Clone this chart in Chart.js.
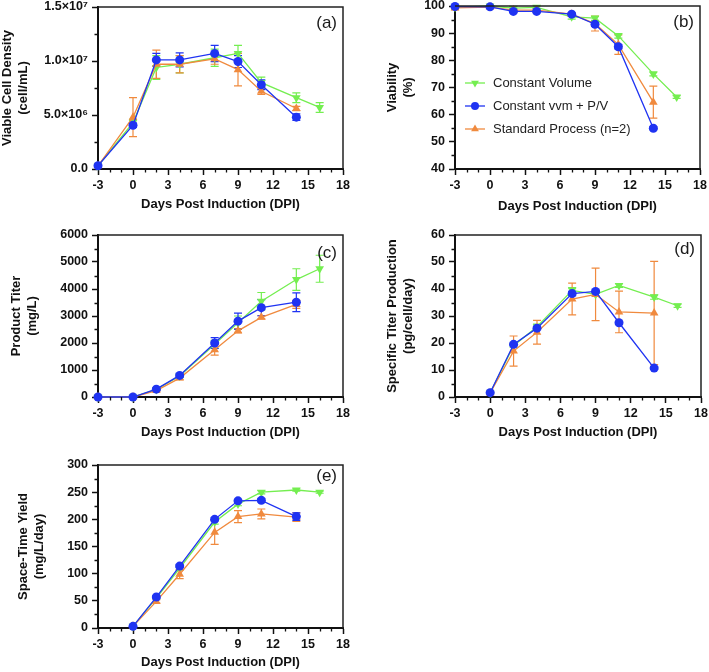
<!DOCTYPE html>
<html lang="en">
<head>
<meta charset="UTF-8">
<script src="https://cdn.jsdelivr.net/npm/chart.js@4"></script>
<title>Days Post Induction</title>
<style>
    body { margin: 0; background: #fff; }
    #wrap { position: relative; width: 709px; height: 672px; }
    canvas { position: absolute; }
</style>
</head>
<body>
<div id="wrap">
    <canvas id="graf-a" width="355" height="220" style="left:0;top:0"></canvas>
    <canvas id="graf-b" width="354" height="220" style="left:355px;top:0"></canvas>
    <canvas id="graf-c" width="355" height="220" style="left:0;top:220px"></canvas>
    <canvas id="graf-d" width="354" height="220" style="left:355px;top:220px"></canvas>
    <canvas id="graf-e" width="355" height="232" style="left:0;top:440px"></canvas>
</div>
<script>
// datos
const days = [-3, 0, 2, 4, 7, 9, 11, 14, 16];
const seriesNames = ['Constant Volume', 'Constant vvm + P/V', 'Standard Process (n=2)'];
const xTickLabels = ['-3', '0', '3', '6', '9', '12', '15', '18'];

// (a) viable cell density
const vcdVolume = [0.3e6, 4.3e6, 9.4e6, 9.7e6, 10.3e6, 10.7e6, 8.0e6, 6.6e6, 5.7e6];
const vcdVolumeErr = [0.1e6, 0.3e6, 1.1e6, 0.8e6, 0.8e6, 0.75e6, 0.5e6, 0.45e6, 0.45e6];
const vcdVvm = [0.3e6, 4.05e6, 10.1e6, 10.1e6, 10.7e6, 9.95e6, 7.8e6, 4.8e6, null];
const vcdVvmErr = [0.1e6, 0.2e6, 0.6e6, 0.65e6, 0.75e6, 0.55e6, 0.45e6, 0.3e6, null];
const vcdStd = [0.3e6, 4.8e6, 9.7e6, 9.7e6, 10.2e6, 9.2e6, 7.2e6, 5.6e6, null];
const vcdStdErr = [0.05e6, 1.8e6, 1.3e6, 0.8e6, 0.5e6, 1.5e6, 0.3e6, 0.2e6, null];
const vcdTickLabels = ['0.0', '5.0×10⁶', '1.0×10⁷', '1.5×10⁷'];

// (b) viability
const viaVolume = [99.5, 100, 99.2, 99.5, 96, 95.5, 89, 75, 66.5];
const viaVolumeErr = [0.3, 0.2, 0.5, 0.5, 0.8, 0.8, 0.8, 0.7, 0.5];
const viaVvm = [99.8, 99.7, 98, 98, 97, 93.3, 85, 55, null];
const viaVvmErr = [0.2, 0.2, 0.3, 0.3, 0.3, 0.8, 0.8, 0.5, null];
const viaStd = [99.3, 99.6, 98.5, 98.5, 97, 93.5, 85.8, 64.6, null];
const viaStdErr = [0.6, 0.3, 0.5, 0.5, 0.5, 2.7, 3.6, 5.9, null];

// (c) product titer
const titVolume = [0, 0, 280, 780, 1950, 2750, 3550, 4350, 4750];
const titVolumeErr = [0, 0, 40, 60, 150, 250, 320, 400, 500];
const titVvm = [0, 0, 290, 800, 2000, 2810, 3310, 3510, null];
const titVvmErr = [0, 0, 40, 60, 200, 300, 300, 350, null];
const titStd = [0, 0, 240, 700, 1750, 2450, 2950, 3430, null];
const titStdErr = [0, 0, 30, 60, 200, 80, 60, 150, null];

// (d) specific titer production
const qpVolume = [null, 1.5, 19, 26, 39.5, 38, 41.3, 37, 33.8];
const qpVolumeErr = [null, 0.2, 0.5, 1, 1, 0.5, 0.7, 0.8, 0.6];
const qpVvm = [null, 1.6, 19.5, 25.5, 38.3, 39.1, 27.5, 10.7, null];
const qpVvmErr = [null, 0.2, 0.5, 0.5, 0.8, 0.5, 0.5, 0.5, null];
const qpStd = [null, 1.5, 17, 24, 36.3, 38, 31.5, 31.1, null];
const qpStdErr = [null, 0.3, 5.6, 4.4, 5.9, 9.7, 7.7, 19.1, null];

// (e) space-time yield
const styVolume = [null, 3, 55, 110, 195, 228, 250, 254, 250];
const styVolumeErr = [null, 0.5, 2, 3, 4, 3, 3, 2, 2];
const styVvm = [null, 3, 57, 114, 200, 234, 235, 205, null];
const styVvmErr = [null, 0.5, 2, 3, 3, 3, 3, 7, null];
const styStd = [null, 3, 49, 99, 176, 205, 210, 204, null];
const styStdErr = [null, 0.5, 3, 8, 22, 11, 9, 8, null];

const verde = '#74ee50';
const azul = '#1f33f2';
const naranja = '#f08a3e';
const fuente = "'Liberation Sans', Arial, Helvetica, sans-serif";

Chart.defaults.font.family = fuente;
Chart.defaults.color = '#111';

function puntos(vals, errs) {
    return days.map((d, i) => ({ x: d, y: vals[i], e: errs[i] })).filter(p => p.y !== null);
}

function dibujarMarcador(ctx, estilo, x, y, r) {
    ctx.beginPath();
    if (estilo === 'circle') {
        ctx.arc(x, y, r, 0, Math.PI * 2);
    } else {
        const s = estilo === 'down' ? -1 : 1;
        ctx.moveTo(x, y - s * r);
        ctx.lineTo(x + r * 0.866, y + s * r * 0.5);
        ctx.lineTo(x - r * 0.866, y + s * r * 0.5);
        ctx.closePath();
    }
    ctx.fill();
}

const pluginErrores = {
    id: 'errores',
    beforeDatasetsDraw(chart) {
        const { ctx, scales: { x, y } } = chart;
        const sets = chart.data.datasets.slice().reverse();
        sets.forEach(ds => {
            ctx.save();
            ctx.strokeStyle = ds.borderColor;
            ctx.lineWidth = 1.2;
            ds.data.forEach(p => {
                if (!p.e) return;
                const px = x.getPixelForValue(p.x);
                const arriba = y.getPixelForValue(p.y + p.e);
                const abajo = y.getPixelForValue(p.y - p.e);
                ctx.beginPath();
                ctx.moveTo(px, arriba); ctx.lineTo(px, abajo);
                ctx.moveTo(px - 4, arriba); ctx.lineTo(px + 4, arriba);
                ctx.moveTo(px - 4, abajo); ctx.lineTo(px + 4, abajo);
                ctx.stroke();
            });
            ctx.restore();
        });
    }
};

const pluginMarco = {
    id: 'marco',
    afterDraw(chart, args, opts) {
        const { ctx, chartArea: a, scales: { x, y } } = chart;
        ctx.save();
        // marco superior y derecho
        ctx.strokeStyle = '#222';
        ctx.lineWidth = 1.5;
        ctx.beginPath();
        ctx.moveTo(a.left, a.top); ctx.lineTo(a.right, a.top); ctx.lineTo(a.right, a.bottom);
        ctx.stroke();
        // ticks menores
        ctx.strokeStyle = '#111';
        ctx.lineWidth = 1.3;
        ctx.beginPath();
        for (let d = -3; d <= 18; d++) {
            if ((d + 3) % 3 === 0) continue;
            const px = Math.round(x.getPixelForValue(d)) + 0.5;
            ctx.moveTo(px, a.bottom); ctx.lineTo(px, a.bottom + 3.5);
        }
        for (let v = y.min + opts.minor; v < y.max; v += opts.minor * 2) {
            const py = Math.round(y.getPixelForValue(v)) + 0.5;
            ctx.moveTo(a.left, py); ctx.lineTo(a.left - 3.5, py);
        }
        ctx.stroke();
        // etiqueta del panel
        ctx.fillStyle = '#1a1a1a';
        ctx.font = '17px ' + fuente;
        ctx.textAlign = 'right';
        ctx.textBaseline = 'middle';
        ctx.fillText(opts.panel, a.right - 6, a.top + opts.panelY);
        // leyenda
        if (opts.leyenda) {
            const filas = [[verde, 'down', seriesNames[0]], [azul, 'circle', seriesNames[1]], [naranja, 'up', seriesNames[2]]];
            ctx.font = '13px ' + fuente;
            ctx.textAlign = 'left';
            filas.forEach((f, i) => {
                const yy = a.top + 77 + i * 23;
                const x0 = a.left + 10;
                ctx.strokeStyle = f[0];
                ctx.fillStyle = f[0];
                ctx.lineWidth = 1.3;
                ctx.beginPath(); ctx.moveTo(x0, yy); ctx.lineTo(x0 + 20, yy); ctx.stroke();
                dibujarMarcador(ctx, f[1], x0 + 10, yy, f[1] === 'circle' ? 4 : 4.5);
                ctx.fillStyle = '#222';
                ctx.fillText(f[2], x0 + 28, yy);
            });
        }
        ctx.restore();
    }
};

function crearGrafico(id, p) {
    const series = [
        { label: seriesNames[1], vals: p.vvm, errs: p.vvmErr, color: azul, style: 'circle', rot: 0, r: 4.5, order: 0 },
        { label: seriesNames[2], vals: p.std, errs: p.stdErr, color: naranja, style: 'triangle', rot: 0, r: 5, order: 1 },
        { label: seriesNames[0], vals: p.volume, errs: p.volumeErr, color: verde, style: 'triangle', rot: 180, r: 5, order: 2 }
    ];
    const datasets = series.map(s => ({
        label: s.label,
        data: puntos(s.vals, s.errs),
        borderColor: s.color,
        backgroundColor: s.color,
        pointBackgroundColor: s.color,
        pointBorderColor: s.color,
        borderWidth: 1.3,
        pointRadius: s.r,
        pointBorderWidth: 0,
        pointStyle: s.style,
        pointRotation: s.rot,
        order: s.order,
        clip: false,
        tension: 0
    }));

    new Chart(document.getElementById(id), {
        type: 'line',
        data: { datasets },
        plugins: [pluginErrores, pluginMarco],
        options: {
            responsive: false,
            animation: false,
            events: [],
            layout: { padding: { top: p.top, right: p.right, left: 0, bottom: 0 } },
            plugins: {
                legend: { display: false },
                tooltip: { enabled: false },
                marco: { minor: p.yStep / 2, panel: p.panel, panelY: p.panelY, leyenda: p.leyenda }
            },
            scales: {
                x: {
                    type: 'linear',
                    min: -3, max: 18,
                    afterFit: s => { s.height = p.xHeight; s.paddingLeft = 0; s.paddingRight = 0; },
                    ticks: {
                        stepSize: 3,
                        padding: 3,
                        font: { size: 12.5, weight: 'bold' },
                        color: '#111',
                        maxRotation: 0,
                        callback: (v, i) => xTickLabels[i]
                    },
                    grid: { drawOnChartArea: false, drawTicks: true, tickLength: 6, tickWidth: 1.5, tickColor: '#111' },
                    border: { display: true, color: '#111', width: 2 },
                    title: {
                        display: true,
                        text: 'Days Post Induction (DPI)',
                        font: { size: 13, weight: 'bold', lineHeight: 1.2 },
                        color: '#111',
                        padding: { top: 0, bottom: p.xTitlePad }
                    }
                },
                y: {
                    type: 'linear',
                    min: p.yMin, max: p.yMax,
                    afterFit: s => { s.width = p.yWidth; s.paddingTop = 0; s.paddingBottom = 0; },
                    ticks: {
                        stepSize: p.yStep,
                        padding: 4,
                        font: { size: 12.5, weight: 'bold' },
                        color: '#111',
                        callback: p.yLabel
                    },
                    grid: { drawOnChartArea: false, drawTicks: true, tickLength: 6, tickWidth: 1.5, tickColor: '#111' },
                    border: { display: true, color: '#111', width: 2 },
                    title: {
                        display: true,
                        text: p.yTitle,
                        font: { size: 13, weight: 'bold', lineHeight: 1.2 },
                        color: '#111',
                        padding: { top: p.yTitlePad, bottom: 0 }
                    }
                }
            }
        }
    });
}

crearGrafico('graf-a', {
    volume: vcdVolume, volumeErr: vcdVolumeErr, vvm: vcdVvm, vvmErr: vcdVvmErr, std: vcdStd, stdErr: vcdStdErr,
    yMin: 0, yMax: 1.5e7, yStep: 5e6, yLabel: v => vcdTickLabels[Math.round(v / 5e6)],
    yTitle: ['Viable Cell Density', '(cell/mL)'], panel: '(a)', panelY: 16,
    top: 7, right: 12, yWidth: 98, xHeight: 51, xTitlePad: 8, yTitlePad: 0
});
crearGrafico('graf-b', {
    volume: viaVolume, volumeErr: viaVolumeErr, vvm: viaVvm, vvmErr: viaVvmErr, std: viaStd, stdErr: viaStdErr,
    yMin: 40, yMax: 100, yStep: 10, yLabel: v => String(v),
    yTitle: ['Viability', '(%)'], panel: '(b)', panelY: 16.5, leyenda: true,
    top: 6, right: 9, yWidth: 100, xHeight: 51, xTitlePad: 6, yTitlePad: 30
});
crearGrafico('graf-c', {
    volume: titVolume, volumeErr: titVolumeErr, vvm: titVvm, vvmErr: titVvmErr, std: titStd, stdErr: titStdErr,
    yMin: 0, yMax: 6000, yStep: 1000, yLabel: v => String(v),
    yTitle: ['Product Titer', '(mg/L)'], panel: '(c)', panelY: 18,
    top: 15, right: 12, yWidth: 98, xHeight: 43, xTitlePad: 0, yTitlePad: 9
});
crearGrafico('graf-d', {
    volume: qpVolume, volumeErr: qpVolumeErr, vvm: qpVvm, vvmErr: qpVvmErr, std: qpStd, stdErr: qpStdErr,
    yMin: 0, yMax: 60, yStep: 10, yLabel: v => String(v),
    yTitle: ['Specific Titer Production', '(pg/cell/day)'], panel: '(d)', panelY: 14,
    top: 15, right: 8, yWidth: 100, xHeight: 43, xTitlePad: 0, yTitlePad: 30
});
crearGrafico('graf-e', {
    volume: styVolume, volumeErr: styVolumeErr, vvm: styVvm, vvmErr: styVvmErr, std: styStd, stdErr: styStdErr,
    yMin: 0, yMax: 300, yStep: 50, yLabel: v => String(v),
    yTitle: ['Space-Time Yield', '(mg/L/day)'], panel: '(e)', panelY: 11,
    top: 25, right: 12, yWidth: 98, xHeight: 44, xTitlePad: 2, yTitlePad: 16
});
</script>
</body>
</html>
